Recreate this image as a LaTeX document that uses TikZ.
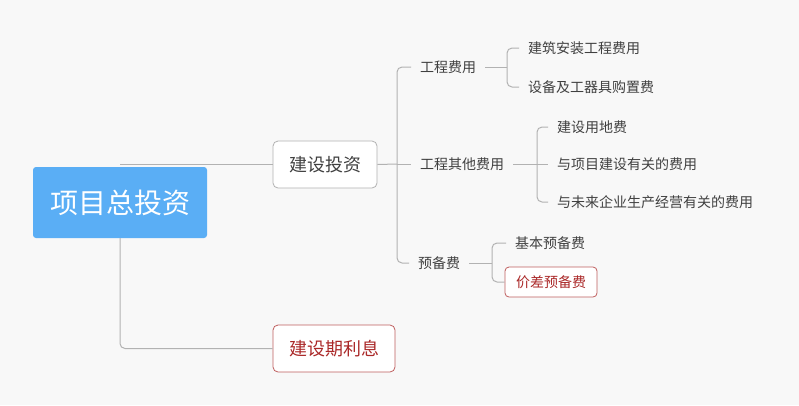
\documentclass[tikz,border=0pt]{standalone}
\usepackage{fontspec}
\setmainfont{Noto Sans CJK SC}
\usepackage{tikz}
\usetikzlibrary{positioning}
\usepackage{xcolor}
\definecolor{mmblue}{RGB}{90,174,245}
\definecolor{mmgray}{RGB}{178,178,178}
\definecolor{mmtext}{RGB}{64,64,64}
\definecolor{mmred}{RGB}{170,40,40}
\definecolor{mmbg}{RGB}{248,248,248}
\tikzstyle{root} = [rectangle, rounded corners=3pt, fill=mmblue, text=white, minimum width=174pt, minimum height=71pt, font=\fontsize{28}{30}\selectfont]
\tikzstyle{topic} = [rectangle, rounded corners=5pt, draw=mmgray, fill=white, text=mmtext, minimum height=47pt, thick, font=\fontsize{18}{20}\selectfont]
\tikzstyle{hot} = [draw=mmred!75, text=mmred]
\tikzstyle{leaf} = [anchor=west, inner xsep=9pt, text=mmtext, font=\fontsize{14}{16}\selectfont]
\tikzstyle{link} = [draw=mmgray, line width=1pt, rounded corners=5pt]

\begin{document}
\begin{tikzpicture}[x=1pt,y=-1pt]
\fill[mmbg] (0,0) rectangle (799,405);
\useasboundingbox (0,0) rectangle (799,405);

% main topics
\node[root] (root) at (120,202.5) {项目总投资};
\node[topic, minimum width=104pt] (jstz) at (325,164.5) {建设投资};
\node[topic, hot, minimum width=122pt] (jsqlx) at (334,348.5) {建设期利息};

% second level
\node[leaf] (gcfy) at (411,67) {工程费用};
\node[leaf] (gcqt) at (411,164) {工程其他费用};
\node[leaf] (ybf) at (409,263) {预备费};

% third level
\node[leaf] (jzaz) at (519,48) {建筑安装工程费用};
\node[leaf] (sbgz) at (519,87) {设备及工器具购置费};
\node[leaf] (jsyd) at (548,127) {建设用地费};
\node[leaf] (xmjs) at (548,164) {与项目建设有关的费用};
\node[leaf] (wlqy) at (548,202) {与未来企业生产经营有关的费用};
\node[leaf] (jbyb) at (506,243) {基本预备费};
\node[topic, hot, minimum width=92pt, minimum height=30pt, rounded corners=4pt, font=\fontsize{14}{16}\selectfont] (jcyb) at (551,282) {价差预备费};

\coordinate (f1) at (397,164);
\coordinate (f2) at (507,67);
\coordinate (f3) at (537,164);
\coordinate (f4) at (492,263);

\draw[link] (root.center |- jstz.west) -- (jstz.west);
\draw[link] (root.south) |- (jsqlx.west);

\draw[link] (jstz.east) -- (f1);
\draw[link] (f1) |- (gcfy.west);
\draw[link] (f1) -- (gcqt.west);
\draw[link] (f1) |- (ybf.west);

\draw[link] (gcfy.east) -- (f2);
\draw[link] (f2) |- (jzaz.west);
\draw[link] (f2) |- (sbgz.west);

\draw[link] (gcqt.east) -- (f3);
\draw[link] (f3) |- (jsyd.west);
\draw[link] (f3) -- (xmjs.west);
\draw[link] (f3) |- (wlqy.west);

\draw[link] (ybf.east) -- (f4);
\draw[link] (f4) |- (jbyb.west);
\draw[link] (f4) |- (jcyb.west);
\end{tikzpicture}
\end{document}
